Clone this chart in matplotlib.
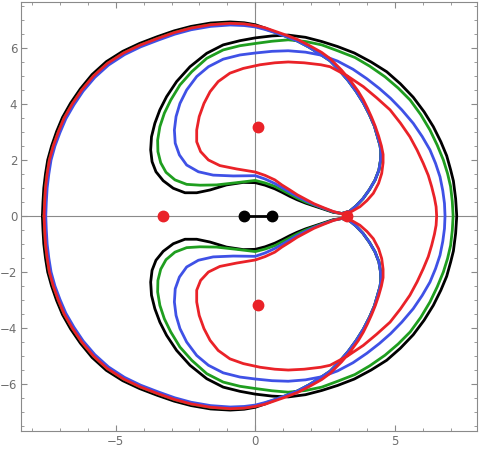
import matplotlib
matplotlib.use("Agg")
import matplotlib.pyplot as plt
from matplotlib.ticker import MultipleLocator

# upper half of each closed curve, read off the picture starting at its left end
# on the x axis; the lower half is its mirror image about y = 0
black_pts = [
    (-7.63, 0.00), (-7.61, 0.50), (-7.58, 1.00), (-7.52, 1.50), (-7.44, 2.00), (-7.30, 2.50),
    (-7.12, 3.02), (-6.91, 3.52), (-6.62, 4.03), (-6.27, 4.54), (-5.85, 5.05), (-5.34, 5.51),
    (-4.75, 5.88), (-4.15, 6.16), (-3.52, 6.40), (-2.91, 6.61), (-2.30, 6.77), (-1.60, 6.89),
    (-0.90, 6.93), (-0.40, 6.90), (0.00, 6.83), (0.35, 6.71), (0.70, 6.57), (1.10, 6.42),
    (1.52, 6.25), (1.92, 6.04), (2.32, 5.79), (2.68, 5.55), (3.02, 5.20), (3.33, 4.84),
    (3.61, 4.46), (3.87, 4.05), (4.09, 3.62), (4.27, 3.21), (4.39, 2.80), (4.47, 2.52),
    (4.50, 2.30), (4.49, 2.00), (4.43, 1.64), (4.29, 1.28), (4.09, 0.94), (3.86, 0.62),
    (3.60, 0.35), (3.38, 0.17), (3.10, 0.09), (2.80, 0.13), (2.44, 0.25), (2.10, 0.36),
    (1.80, 0.46), (1.50, 0.58), (1.24, 0.70), (0.95, 0.85), (0.70, 0.97), (0.35, 1.10),
    (0.00, 1.19), (-0.43, 1.20), (-1.03, 1.11), (-1.62, 0.93), (-2.10, 0.83), (-2.52, 0.83),
    (-2.94, 0.99), (-3.30, 1.26), (-3.56, 1.58), (-3.70, 1.94), (-3.75, 2.36), (-3.72, 2.83),
    (-3.60, 3.31), (-3.42, 3.79), (-3.18, 4.26), (-2.82, 4.80), (-2.34, 5.33), (-1.74, 5.81),
    (-1.15, 6.11), (-0.55, 6.26), (0.00, 6.36), (0.60, 6.43), (1.18, 6.46), (1.80, 6.38),
    (2.38, 6.23), (2.95, 6.05), (3.55, 5.82), (4.15, 5.50), (4.71, 5.15), (5.20, 4.72),
    (5.66, 4.24), (6.05, 3.72), (6.38, 3.19), (6.65, 2.65), (6.86, 2.15), (7.00, 1.65),
    (7.10, 1.25), (7.18, 0.62), (7.22, 0.00),
]

green_pts = [
    (-7.57, 0.00), (-7.55, 0.50), (-7.52, 1.00), (-7.46, 1.50), (-7.38, 2.00), (-7.24, 2.50),
    (-7.06, 3.00), (-6.85, 3.50), (-6.56, 4.00), (-6.22, 4.50), (-5.80, 5.00), (-5.30, 5.45),
    (-4.72, 5.82), (-4.13, 6.10), (-3.50, 6.34), (-2.90, 6.55), (-2.30, 6.71), (-1.60, 6.83),
    (-0.90, 6.88), (-0.40, 6.85), (0.00, 6.78), (0.35, 6.68), (0.70, 6.56), (1.10, 6.41),
    (1.52, 6.24), (1.92, 6.03), (2.32, 5.78), (2.68, 5.54), (3.02, 5.19), (3.33, 4.83),
    (3.61, 4.45), (3.87, 4.04), (4.09, 3.62), (4.27, 3.21), (4.39, 2.80), (4.47, 2.52),
    (4.50, 2.30), (4.49, 2.00), (4.43, 1.64), (4.29, 1.28), (4.09, 0.94), (3.86, 0.62),
    (3.60, 0.35), (3.38, 0.17), (3.10, 0.09), (2.80, 0.14), (2.44, 0.27), (2.10, 0.39),
    (1.80, 0.50), (1.50, 0.64), (1.24, 0.78), (0.95, 0.93), (0.70, 1.06), (0.35, 1.18),
    (0.00, 1.27), (-0.67, 1.19), (-1.39, 1.11), (-1.98, 1.10), (-2.46, 1.13), (-2.88, 1.29),
    (-3.20, 1.56), (-3.39, 1.90), (-3.49, 2.30), (-3.50, 2.71), (-3.42, 3.19), (-3.26, 3.67),
    (-3.03, 4.14), (-2.70, 4.68), (-2.28, 5.15), (-1.74, 5.63), (-1.15, 5.93), (-0.55, 6.08),
    (0.00, 6.16), (0.60, 6.24), (1.18, 6.29), (1.80, 6.23), (2.38, 6.11), (2.95, 5.90),
    (3.57, 5.66), (4.10, 5.35), (4.65, 4.97), (5.12, 4.57), (5.55, 4.14), (5.93, 3.62),
    (6.26, 3.07), (6.52, 2.53), (6.74, 2.00), (6.89, 1.52), (7.00, 1.05), (7.06, 0.52),
    (7.09, 0.00),
]

blue_pts = [
    (-7.51, 0.00), (-7.49, 0.50), (-7.46, 1.00), (-7.40, 1.50), (-7.32, 2.00), (-7.18, 2.50),
    (-7.00, 2.98), (-6.79, 3.47), (-6.50, 3.97), (-6.17, 4.46), (-5.75, 4.95), (-5.26, 5.39),
    (-4.69, 5.76), (-4.11, 6.04), (-3.48, 6.28), (-2.89, 6.49), (-2.30, 6.65), (-1.60, 6.77),
    (-0.90, 6.82), (-0.40, 6.80), (0.00, 6.75), (0.35, 6.66), (0.70, 6.55), (1.10, 6.41),
    (1.52, 6.24), (1.92, 6.03), (2.32, 5.78), (2.68, 5.54), (3.02, 5.19), (3.33, 4.83),
    (3.61, 4.45), (3.87, 4.04), (4.09, 3.62), (4.27, 3.21), (4.39, 2.80), (4.47, 2.52),
    (4.50, 2.30), (4.49, 2.00), (4.43, 1.64), (4.29, 1.28), (4.09, 0.94), (3.86, 0.62),
    (3.60, 0.35), (3.38, 0.17), (3.10, 0.09), (2.80, 0.15), (2.44, 0.28), (2.10, 0.41),
    (1.80, 0.55), (1.50, 0.70), (1.24, 0.85), (0.95, 1.02), (0.70, 1.16), (0.35, 1.32),
    (0.00, 1.44), (-0.79, 1.43), (-1.51, 1.46), (-2.04, 1.58), (-2.46, 1.82), (-2.72, 2.18),
    (-2.87, 2.60), (-2.90, 3.07), (-2.84, 3.55), (-2.70, 4.02), (-2.46, 4.50), (-2.10, 4.98),
    (-1.68, 5.33), (-1.15, 5.60), (-0.55, 5.75), (0.00, 5.82), (0.60, 5.88), (1.18, 5.90),
    (1.80, 5.85), (2.38, 5.74), (2.95, 5.53), (3.50, 5.24), (4.00, 4.90), (4.45, 4.55),
    (4.85, 4.20), (5.25, 3.79), (5.66, 3.31), (5.98, 2.84), (6.26, 2.36), (6.46, 1.88),
    (6.62, 1.40), (6.72, 0.90), (6.78, 0.45), (6.80, 0.00),
]

red_pts = [
    (-7.57, 0.00), (-7.55, 0.50), (-7.52, 1.00), (-7.46, 1.50), (-7.38, 2.00), (-7.24, 2.50),
    (-7.06, 3.00), (-6.85, 3.50), (-6.56, 4.00), (-6.22, 4.50), (-5.80, 5.00), (-5.30, 5.45),
    (-4.72, 5.82), (-4.13, 6.10), (-3.50, 6.34), (-2.90, 6.55), (-2.30, 6.71), (-1.60, 6.83),
    (-0.90, 6.88), (-0.40, 6.86), (0.00, 6.80), (0.35, 6.72), (0.70, 6.60), (1.10, 6.46),
    (1.54, 6.29), (1.95, 6.08), (2.38, 5.84), (2.68, 5.62), (3.09, 5.21), (3.39, 4.86),
    (3.69, 4.45), (3.87, 4.15), (4.02, 3.85), (4.17, 3.52), (4.30, 3.20), (4.42, 2.85),
    (4.52, 2.50), (4.58, 2.20), (4.58, 1.90), (4.53, 1.52), (4.42, 1.17), (4.23, 0.81),
    (4.00, 0.55), (3.75, 0.33), (3.45, 0.16), (3.10, 0.08), (2.80, 0.16), (2.44, 0.30),
    (2.10, 0.44), (1.80, 0.60), (1.50, 0.76), (1.24, 0.93), (0.95, 1.11), (0.70, 1.29),
    (0.35, 1.45), (0.00, 1.57), (-0.67, 1.68), (-1.27, 1.80), (-1.68, 2.00), (-1.96, 2.30),
    (-2.10, 2.65), (-2.10, 3.07), (-2.01, 3.55), (-1.84, 4.02), (-1.62, 4.44), (-1.33, 4.80),
    (-0.91, 5.10), (-0.43, 5.27), (0.17, 5.40), (0.70, 5.47), (1.18, 5.50), (1.75, 5.47),
    (2.35, 5.40), (2.68, 5.33), (3.30, 5.00), (3.87, 4.62), (4.35, 4.22), (4.83, 3.79),
    (5.20, 3.32), (5.54, 2.83), (5.80, 2.35), (6.02, 1.88), (6.20, 1.45), (6.32, 1.05),
    (6.42, 0.65), (6.48, 0.33), (6.50, 0.00),
]

# equilibrium points (red) and the two bodies of the dumbbell (black)
eq_x = [0.09, 0.09, -3.32, 3.28]
eq_y = [3.18, -3.18, 0.00, 0.00]
body_x = [-0.40, 0.60]
body_y = [0.00, 0.00]

xticks = [-5, 0, 5]
yticks = [-6, -4, -2, 0, 2, 4, 6]

curves = [
    (black_pts, "#000000"),
    (green_pts, "#1f9e1f"),
    (blue_pts, "#3f51e6"),
    (red_pts, "#ea2228"),
]

fig = plt.figure(figsize=(4.8, 4.5), dpi=100)
ax = fig.add_axes([0.043, 0.042, 0.951, 0.9535])

ax.axhline(0, color="#8a8a8a", lw=0.8, zorder=1)
ax.axvline(0, color="#8a8a8a", lw=0.8, zorder=1)

for pts, col in curves:
    xs = [p[0] for p in pts]
    ys = [p[1] for p in pts]
    full_x = xs + xs[::-1]
    full_y = ys + [-v for v in ys[::-1]]
    ax.plot(full_x, full_y, color=col, lw=2.0, solid_joinstyle="round",
            solid_capstyle="round", zorder=2)

ax.plot(body_x, body_y, color="black", lw=2.0, zorder=3)
ax.plot(body_x, body_y, "o", color="black", ms=7.5, zorder=4)
ax.plot(eq_x, eq_y, "o", color="#ea2228", ms=7.5, zorder=4)

ax.set_xlim(-8.41, 7.95)
ax.set_ylim(-7.68, 7.64)

gray = "#8a8a8a"
for sp in ax.spines.values():
    sp.set_color(gray)
    sp.set_linewidth(0.8)

ax.set_xticks(xticks)
ax.set_yticks(yticks)
ax.xaxis.set_minor_locator(MultipleLocator(1))
ax.yaxis.set_minor_locator(MultipleLocator(0.5))
ax.tick_params(which="both", direction="in", top=True, right=True, color=gray,
               labelcolor="#6e6e6e", labelsize=8.5, pad=2.5)
ax.tick_params(which="major", length=4, width=0.8)
ax.tick_params(which="minor", length=2.2, width=0.6)

fig.savefig("out.png", dpi=100)
